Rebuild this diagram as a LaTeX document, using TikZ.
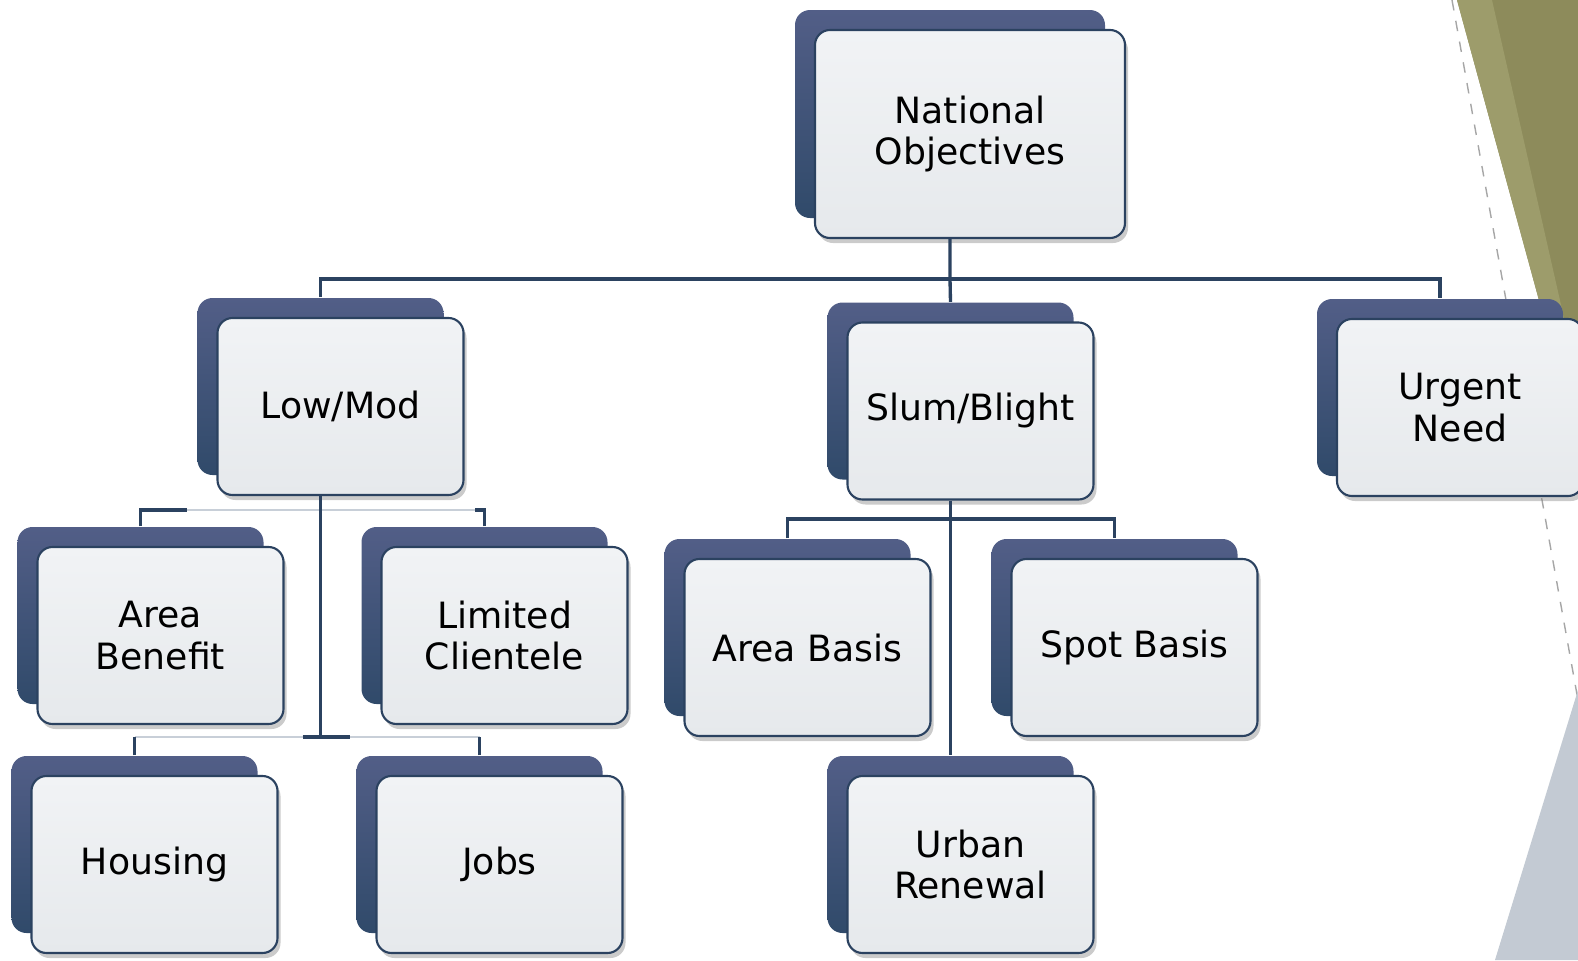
\documentclass[tikz,border=0pt]{standalone}
\usepackage{fontspec}
\setmainfont{DejaVu Sans}
\usepackage{tikz}
\usetikzlibrary{calc,shadows}
\usepackage{xcolor}
\definecolor{navytop}{HTML}{525E87}
\definecolor{navybot}{HTML}{304A6A}
\definecolor{navyline}{HTML}{2B4260}
\definecolor{boxtop}{HTML}{F1F3F5}
\definecolor{boxbot}{HTML}{E6E9EC}
\definecolor{palelink}{HTML}{C8CFD8}
\definecolor{oliveA}{HTML}{8D8B5B}
\definecolor{oliveB}{HTML}{9D9C6B}
\definecolor{slate}{HTML}{C3CAD3}
\tikzset{
  backbox/.style={rounded corners=0.15cm, minimum width=2.46cm, minimum height=1.77cm,
    top color=navytop, bottom color=navybot, draw=none},
  frontbox/.style={rounded corners=0.15cm, minimum width=2.46cm, minimum height=1.77cm,
    top color=boxtop, bottom color=boxbot, draw=navyline, line width=0.6pt,
    align=center, font=\fontsize{10.3}{11.7}\selectfont,
    drop shadow={shadow xshift=0.03cm, shadow yshift=-0.05cm, fill=black!45, opacity=0.45}},
  link/.style={draw=navyline, line width=0.95pt},
  palelink/.style={draw=palelink, line width=0.7pt},
}

\begin{document}
\begin{tikzpicture}
\useasboundingbox (0,0) rectangle (15.78,9.6);
% side decoration
\fill [oliveA] (14.57,9.6) -- (15.78,9.6) -- (15.78,5.17) -- cycle;
\fill [oliveB] (14.57,9.6) -- (14.92,9.6) -- (15.78,5.8) -- (15.78,5.17) -- cycle;
\draw [gray!70, dashed, line width=0.4pt] (14.52,9.6) -- (15.78,2.6);
\fill [slate] (15.78,2.7) -- (14.95,0) -- (15.78,0) -- cycle;

% boxes
\node [backbox, minimum width=3.1cm, minimum height=2.08cm] (root-b) at (9.50,8.46) {};
\node [frontbox, minimum width=3.1cm, minimum height=2.08cm] (root) at ($(root-b)+(0.2,-0.2)$) {National\\Objectives};

\node [backbox] (lowmod-b) at (3.205,5.735) {};
\node [frontbox] (lowmod) at ($(lowmod-b)+(0.2,-0.2)$) {Low/Mod};
\node [backbox] (slum-b) at (9.505,5.69) {};
\node [frontbox] (slum) at ($(slum-b)+(0.2,-0.2)$) {Slum/Blight};
\node [backbox] (urgent-b) at (14.40,5.725) {};
\node [frontbox] (urgent) at ($(urgent-b)+(0.2,-0.2)$) {Urgent\\Need};

\node [backbox] (areaben-b) at (1.405,3.445) {};
\node [frontbox] (areaben) at ($(areaben-b)+(0.2,-0.2)$) {Area\\Benefit};
\node [backbox] (limcl-b) at (4.845,3.445) {};
\node [frontbox] (limcl) at ($(limcl-b)+(0.2,-0.2)$) {Limited\\Clientele};
\node [backbox] (housing-b) at (1.345,1.155) {};
\node [frontbox] (housing) at ($(housing-b)+(0.2,-0.2)$) {Housing};
\node [backbox] (jobs-b) at (4.795,1.155) {};
\node [frontbox] (jobs) at ($(jobs-b)+(0.2,-0.2)$) {Jobs};

\node [backbox] (areabasis-b) at (7.875,3.325) {};
\node [frontbox] (areabasis) at ($(areabasis-b)+(0.2,-0.2)$) {Area Basis};
\node [backbox] (spot-b) at (11.145,3.325) {};
\node [frontbox] (spot) at ($(spot-b)+(0.2,-0.2)$) {Spot Basis};
\node [backbox] (urban-b) at (9.505,1.155) {};
\node [frontbox] (urban) at ($(urban-b)+(0.2,-0.2)$) {Urban\\Renewal};

% connectors
\coordinate (bus1) at (0,6.81);
\coordinate (bus2) at (0,4.50);
\coordinate (bus3) at (0,2.23);
\coordinate (bus4) at (0,4.41);
\draw [link] (root.south -| root-b) -- (root-b |- bus1) -- (slum-b.north);
\draw [link] (lowmod-b.north) -- (lowmod-b |- bus1) -- (urgent-b |- bus1) -- (urgent-b.north);

\draw [palelink] (areaben-b |- bus2) -- (limcl-b |- bus2);
\draw [link] (areaben-b.north) -- (areaben-b |- bus2) -- ++(0.46,0);
\draw [link] (limcl-b.north) -- (limcl-b |- bus2) -- ++(-0.1,0);
\draw [palelink] (housing-b |- bus3) -- (jobs-b |- bus3);
\draw [link] (housing-b.north) -- (housing-b |- bus3);
\draw [link] (jobs-b.north) -- (jobs-b |- bus3);
\draw [link] (lowmod.south -| lowmod-b) -- (lowmod-b |- bus3);
\draw [link] ($(lowmod-b |- bus3)+(-0.18,0)$) -- ++(0.47,0);

\draw [link] (slum.south -| slum-b) -- (urban-b.north);
\draw [link] (areabasis-b.north) -- (areabasis-b |- bus4) -- (spot-b |- bus4) -- (spot-b.north);
\end{tikzpicture}
\end{document}
